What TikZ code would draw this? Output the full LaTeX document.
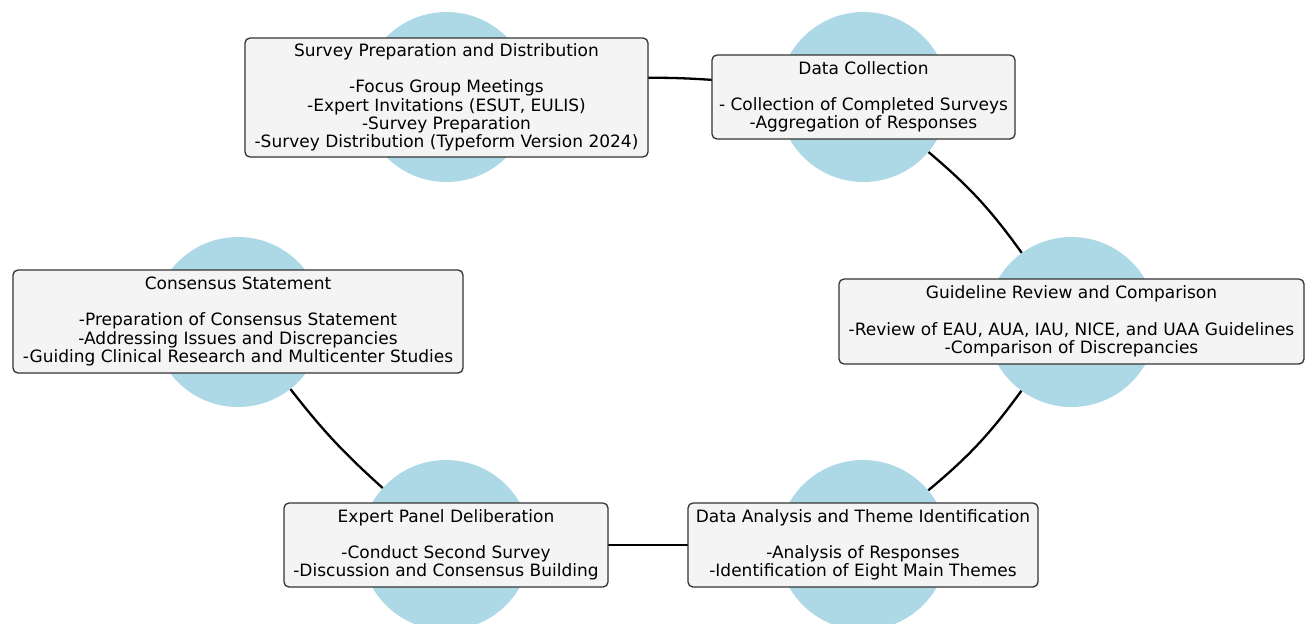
\documentclass[tikz,border=0pt]{standalone}
\usepackage{fontspec}
\setmainfont{DejaVu Sans}
\definecolor{hubblue}{HTML}{ADD8E6}
\definecolor{cardgray}{HTML}{F4F4F4}
\begin{document}
\begin{tikzpicture}[x=1pt,y=-1pt,
  hub/.style={circle, fill=hubblue, draw=none, minimum size=170pt, inner sep=0pt},
  card/.style={draw=black!80, line width=1.3pt, fill=cardgray, rounded corners=5pt,
    align=center, inner sep=0pt, font=\fontsize{17}{18.2}\selectfont},
  link/.style={line width=2.3pt, draw=black}]
\useasboundingbox (0,0) rectangle (1307,624);
\clip (0,0) rectangle (1307,624);
% circles
\node[hub] (c1) at (446.5,97) {};
\node[hub] (c2) at (863.5,97) {};
\node[hub] (c3) at (1071.5,322) {};
\node[hub] (c4) at (863,545) {};
\node[hub] (c5) at (446,545) {};
\node[hub] (c6) at (238,322) {};
% connectors
\draw[link] (c1) to[bend left=7] (c2);
\draw[link] (c2) to[bend left=7] (c3);
\draw[link] (c3) to[bend left=7] (c4);
\draw[link] (c4) -- (c5);
\draw[link] (c5) to[bend left=5] (c6);
% boxes
\node[card, minimum width=403pt, minimum height=119pt] (b1) at (446.5,97.5)
  {Survey Preparation and Distribution\\[18pt]-Focus Group Meetings\\-Expert Invitations (ESUT, EULIS)\\-Survey Preparation\\-Survey Distribution (Typeform Version 2024)};
\node[card, minimum width=303pt, minimum height=84pt] (b2) at (863.5,97)
  {Data Collection\\[18pt]- Collection of Completed Surveys\\-Aggregation of Responses};
\node[card, minimum width=465pt, minimum height=85pt] (b3) at (1071.5,321.5)
  {Guideline Review and Comparison\\[18pt]-Review of EAU, AUA, IAU, NICE, and UAA Guidelines\\-Comparison of Discrepancies};
\node[card, minimum width=350pt, minimum height=84pt] (b4) at (863,545)
  {Data Analysis and Theme Identification\\[18pt]-Analysis of Responses\\-Identification of Eight Main Themes};
\node[card, minimum width=324pt, minimum height=84pt] (b5) at (446,545)
  {Expert Panel Deliberation\\[18pt]-Conduct Second Survey\\-Discussion and Consensus Building};
\node[card, minimum width=450pt, minimum height=103pt] (b6) at (238,321.5)
  {Consensus Statement\\[18pt]-Preparation of Consensus Statement\\-Addressing Issues and Discrepancies\\-Guiding Clinical Research and Multicenter Studies};
\end{tikzpicture}
\end{document}
